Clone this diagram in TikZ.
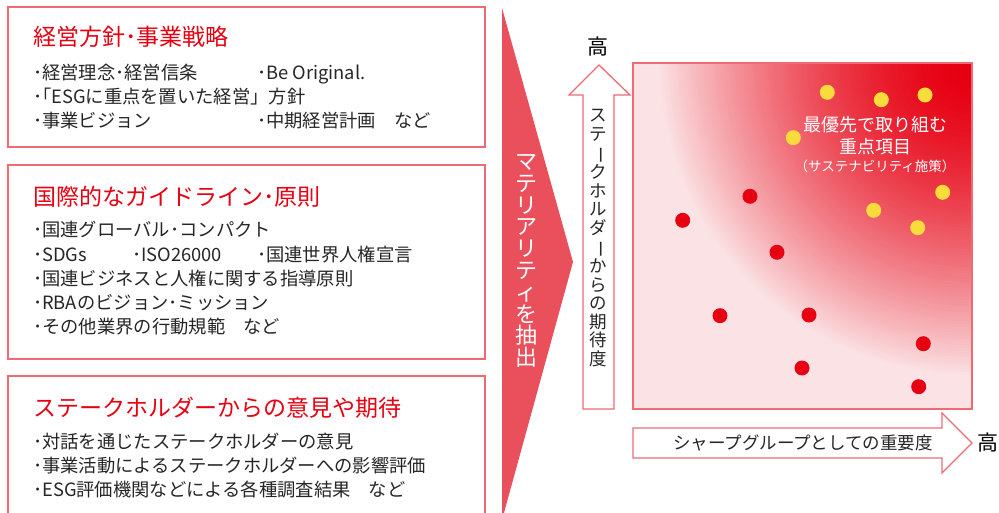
\documentclass[tikz,border=0pt]{standalone}
\usepackage{fontspec}
\setmainfont{Noto Sans CJK JP}
\definecolor{tred}{HTML}{E60012}
\definecolor{salmon}{HTML}{EE6B74}
\definecolor{chev}{HTML}{EA505C}
\definecolor{pinkbg}{HTML}{FBE3E5}
\definecolor{dotyel}{HTML}{F9DB3C}
\definecolor{txt}{HTML}{262626}
\newcommand{\vbar}{\rotatebox[origin=c]{-90}{ー}}
\tikzset{
  boxframe/.style={draw=salmon, line width=1.3pt, fill=white},
  arrowframe/.style={draw=salmon, line width=1.3pt, fill=white, line join=miter},
  ttl/.style={anchor=west, inner sep=0pt, text=tred, font=\fontsize{23}{23}\selectfont, text height=20pt, text depth=3pt},
  bodytxt/.style={anchor=west, inner sep=0pt, text=txt, font=\fontsize{18.3}{18.3}\selectfont, text height=16.1pt, text depth=2.2pt},
  vtxtw/.style={inner sep=0pt, align=center, text=white, font=\fontsize{22}{21.8}\selectfont},
  vtxtb/.style={inner sep=0pt, align=center, text=txt, font=\fontsize{17.5}{18.5}\selectfont},
  hightxt/.style={inner sep=0pt, text=black, font=\fontsize{21}{21}\selectfont},
  reddot/.style={circle, fill=tred, inner sep=0pt, minimum size=15pt},
  yeldot/.style={circle, fill=dotyel, inner sep=0pt, minimum size=15pt},
  plottxt/.style={inner sep=0pt, text=white, font=\fontsize{18}{18}\selectfont},
}
\begin{document}
\begin{tikzpicture}[x=1pt,y=-1pt]
\useasboundingbox (0,0) rectangle (999,513);

% left boxes
\draw[boxframe] (8,7) rectangle (485,147);
\draw[boxframe] (8,165) rectangle (485,359);
\draw[boxframe] (8,376) rectangle (485,530);

% box 1
\node[ttl] (t1) at (33,37.5) {経営方針･事業戦略};
\node[bodytxt] (b11) at (33,73) {･経営理念･経営信条};
\node[bodytxt] (b12) at (257,73) {･Be Original.};
\node[bodytxt] (b13) at (33,97) {･｢ESGに重点を置いた経営」方針};
\node[bodytxt] (b14) at (33,121) {･事業ビジョン};
\node[bodytxt] (b15) at (257,121) {･中期経営計画　など};

% box 2
\node[ttl] (t2) at (33,197) {国際的なガイドライン･原則};
\node[bodytxt] (b21) at (33,230) {･国連グローバル･コンパクト};
\node[bodytxt] (b22) at (33,255) {･SDGs};
\node[bodytxt] (b23) at (132,255) {･ISO26000};
\node[bodytxt] (b24) at (257,255) {･国連世界人権宣言};
\node[bodytxt] (b25) at (33,279) {･国連ビジネスと人権に関する指導原則};
\node[bodytxt] (b26) at (33,303) {･RBAのビジョン･ミッション};
\node[bodytxt] (b27) at (33,327) {･その他業界の行動規範　など};

% box 3
\node[ttl] (t3) at (33,408) {ステークホルダーからの意見や期待};
\node[bodytxt] (b31) at (33,442) {･対話を通じたステークホルダーの意見};
\node[bodytxt] (b32) at (33,466) {･事業活動によるステークホルダーへの影響評価};
\node[bodytxt] (b33) at (33,490) {･ESG評価機関などによる各種調査結果　など};

% chevron
\fill[chev] (502,8) -- (573,262) -- (502,520) -- cycle;
\node[vtxtw] (mat) at (526,261) {マ\\テ\\リ\\ア\\リ\\テ\\ィ\\を\\抽\\出};

% vertical arrow
\draw[arrowframe] (583,409) -- (583,95) -- (569,95) -- (599,65) -- (630,95) -- (614,95) -- (614,409) -- cycle;
\node[vtxtb] (vlab) at (598.5,238) {ス\\テ\\\vbar\\ク\\ホ\\ル\\ダ\\\vbar\\か\\ら\\の\\期\\待\\度};
\node[hightxt] (hi1) at (598,47) {高};

% plot area with radial gradient from the top-right corner
\begin{scope}
  \clip (633,63) rectangle (972,409);
  \fill[pinkbg] (633,63) rectangle (972,409);
  \foreach \rr in {318,315,...,3} {
    \pgfmathsetmacro{\ff}{100*(max(0,min(1,(\rr-15)/300)))^1.5}
    \fill[pinkbg!\ff!tred] (972,63) circle (\rr pt);
  }
\end{scope}
\draw[draw=salmon, line width=1.1pt] (633,63) rectangle (972,409);

% yellow dots
\node[yeldot] (y1) at (827.3,92.3) {};
\node[yeldot] (y2) at (881.3,99.7) {};
\node[yeldot] (y3) at (925,95) {};
\node[yeldot] (y4) at (793.3,137.7) {};
\node[yeldot] (y5) at (942.7,192.3) {};
\node[yeldot] (y6) at (873.7,210.3) {};
\node[yeldot] (y7) at (917.7,227.7) {};
% red dots
\node[reddot] (r1) at (750,196.3) {};
\node[reddot] (r2) at (682.7,220.3) {};
\node[reddot] (r3) at (777,252.3) {};
\node[reddot] (r4) at (720,315.7) {};
\node[reddot] (r5) at (809,315) {};
\node[reddot] (r6) at (923.3,343.7) {};
\node[reddot] (r7) at (802,368) {};
\node[reddot] (r8) at (918.7,386.7) {};

\node[plottxt] (p1) at (875,125) {最優先で取り組む};
\node[plottxt] (p2) at (875,147) {重点項目};
\node[plottxt, font=\fontsize{13.5}{13.5}\selectfont] (p3) at (875,166) {（サステナビリティ施策）};

% horizontal arrow
\draw[arrowframe] (633,428) -- (942,428) -- (942,413) -- (972,443) -- (942,473) -- (942,458) -- (633,458) -- cycle;
\node[inner sep=0pt, text=txt, font=\fontsize{17.5}{17.5}\selectfont] (hlab) at (803,443) {シャープグループとしての重要度};
\node[hightxt] (hi2) at (988,443) {高};
\end{tikzpicture}
\end{document}
